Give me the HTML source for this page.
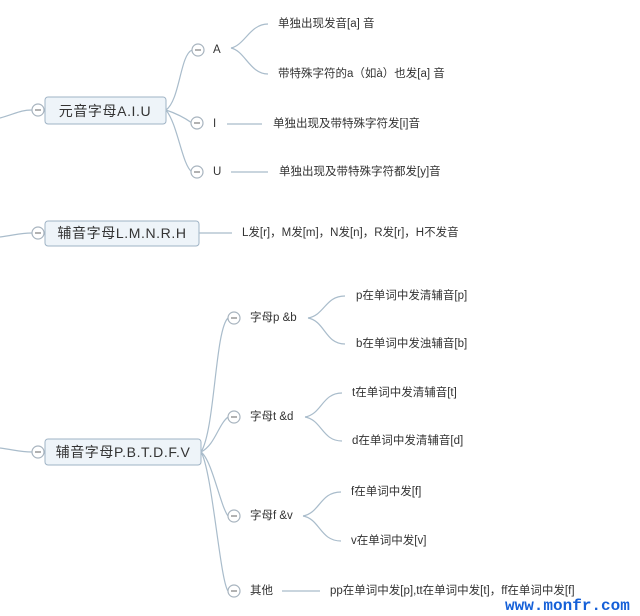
<!DOCTYPE html>
<html><head><meta charset="utf-8"><style>
html,body{margin:0;padding:0;background:#fff;}
svg{display:block;}
text{font-family:"Liberation Sans","Noto Sans CJK SC",sans-serif;fill:#333;font-size:11.5px;dominant-baseline:central;}
.b{font-size:14px;letter-spacing:0.6px;}
.c{fill:#fff;stroke:#a8b4bf;stroke-width:1.2;}
.m{stroke:#666;stroke-width:1;}
.l{fill:none;stroke:#a9bccb;stroke-width:1.2;}
</style></head><body>
<svg width="640" height="616" viewBox="0 0 640 616" xmlns="http://www.w3.org/2000/svg">
<path class="l" d="M0,118 C15,114 20,110 32,110"/>
<path class="l" d="M0,237 C15,235 20,233 32,233"/>
<path class="l" d="M0,448 C15,450 20,452 32,452"/>
<rect x="45" y="97" width="121" height="27" rx="3" fill="#eef4f9" stroke="#9fb3c5"/>
<text class="b" x="105" y="111" text-anchor="middle">元音字母A.I.U</text>
<rect x="45" y="221" width="154" height="25" rx="3" fill="#eef4f9" stroke="#9fb3c5"/>
<text class="b" x="122" y="233" text-anchor="middle">辅音字母L.M.N.R.H</text>
<rect x="45" y="439" width="156" height="26" rx="3" fill="#eef4f9" stroke="#9fb3c5"/>
<text class="b" x="123" y="452" text-anchor="middle">辅音字母P.B.T.D.F.V</text>
<path class="l" d="M166,110 C180,100 180,55 192,50"/>
<path class="l" d="M166,110 C178,114 185,118 192,123"/>
<path class="l" d="M166,110 C178,125 182,165 192,172"/>
<path class="l" d="M231,48 C245,45 250,24 268,24"/>
<path class="l" d="M231,48 C245,51 250,74 268,74"/>
<path class="l" d="M227,124 L262,124"/>
<path class="l" d="M231,172 L268,172"/>
<path class="l" d="M199,233 L232,233"/>
<path class="l" d="M201,452 C215,430 215,330 228,318"/>
<path class="l" d="M201,452 C215,445 218,425 228,417"/>
<path class="l" d="M201,452 C212,460 220,505 228,516"/>
<path class="l" d="M201,452 C212,470 220,580 228,591"/>
<path class="l" d="M308,318 C325,315 325,296 345,296"/>
<path class="l" d="M308,318 C325,321 325,344 345,344"/>
<path class="l" d="M305,417 C322,414 322,393 342,393"/>
<path class="l" d="M305,417 C322,420 322,441 342,441"/>
<path class="l" d="M303,516 C320,513 320,492 341,492"/>
<path class="l" d="M303,516 C320,519 320,541 341,541"/>
<path class="l" d="M282,591 L320,591"/>
<g>
<circle class="c" cx="38" cy="110" r="6"/><line class="m" x1="35" y1="110" x2="41" y2="110"/>
<circle class="c" cx="38" cy="233" r="6"/><line class="m" x1="35" y1="233" x2="41" y2="233"/>
<circle class="c" cx="38" cy="452" r="6"/><line class="m" x1="35" y1="452" x2="41" y2="452"/>
<circle class="c" cx="198" cy="50" r="6"/><line class="m" x1="195" y1="50" x2="201" y2="50"/>
<circle class="c" cx="197" cy="123" r="6"/><line class="m" x1="194" y1="123" x2="200" y2="123"/>
<circle class="c" cx="197" cy="172" r="6"/><line class="m" x1="194" y1="172" x2="200" y2="172"/>
<circle class="c" cx="234" cy="318" r="6"/><line class="m" x1="231" y1="318" x2="237" y2="318"/>
<circle class="c" cx="234" cy="417" r="6"/><line class="m" x1="231" y1="417" x2="237" y2="417"/>
<circle class="c" cx="234" cy="516" r="6"/><line class="m" x1="231" y1="516" x2="237" y2="516"/>
<circle class="c" cx="234" cy="591" r="6"/><line class="m" x1="231" y1="591" x2="237" y2="591"/>
</g>
<text x="213" y="50">A</text>
<text x="213" y="124">I</text>
<text x="213" y="172">U</text>
<text x="278" y="24">单独出现发音[a] 音</text>
<text x="278" y="74">带特殊字符的a（如à）也发[a] 音</text>
<text x="273" y="124">单独出现及带特殊字符发[i]音</text>
<text x="279" y="172">单独出现及带特殊字符都发[y]音</text>
<text x="242" y="233">L发[r]，M发[m]，N发[n]，R发[r]，H不发音</text>
<text x="250" y="318">字母p &amp;b</text>
<text x="250" y="417">字母t &amp;d</text>
<text x="250" y="516">字母f &amp;v</text>
<text x="250" y="591">其他</text>
<text x="356" y="296">p在单词中发清辅音[p]</text>
<text x="356" y="344">b在单词中发浊辅音[b]</text>
<text x="352" y="393">t在单词中发清辅音[t]</text>
<text x="352" y="441">d在单词中发清辅音[d]</text>
<text x="351" y="492">f在单词中发[f]</text>
<text x="351" y="541">v在单词中发[v]</text>
<text x="330" y="591">pp在单词中发[p],tt在单词中发[t]，ff在单词中发[f]</text>
<text x="505" y="606" style="font-family:'Liberation Mono',monospace;font-size:16px;font-weight:bold;fill:#1560d8">www.monfr.com</text>
</svg>
</body></html>
